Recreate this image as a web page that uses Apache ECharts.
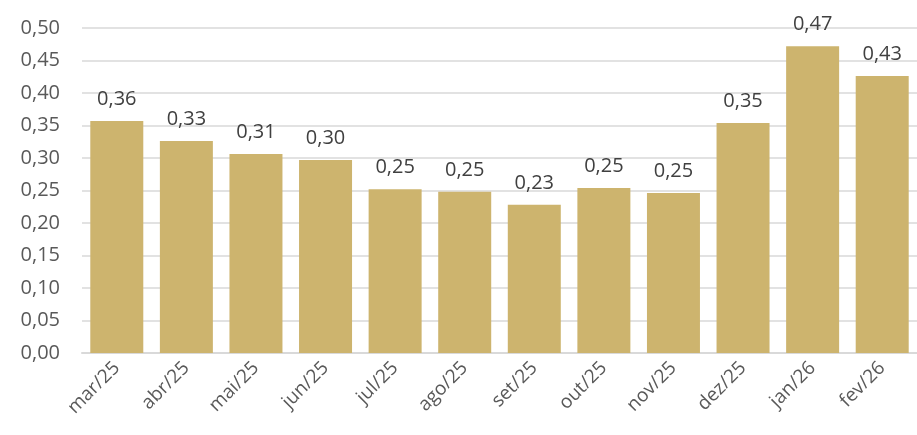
<!DOCTYPE html>
<html>
<head>
<meta charset="utf-8">
<script src="https://cdn.jsdelivr.net/npm/echarts@6/dist/echarts.min.js"></script>
<style>
  html, body { margin: 0; padding: 0; background: #fff; }
  #chart { width: 917px; height: 435px; }
</style>
</head>
<body>
<div id="chart"></div>
<script>
var months = ['mar/25', 'abr/25', 'mai/25', 'jun/25', 'jul/25', 'ago/25',
              'set/25', 'out/25', 'nov/25', 'dez/25', 'jan/26', 'fev/26'];
var values = [0.357, 0.326, 0.306, 0.297, 0.252, 0.248,
              0.228, 0.254, 0.246, 0.354, 0.472, 0.426];

var fmt = function (v) { return v.toFixed(2).replace('.', ','); };

var myChart = echarts.init(document.getElementById('chart'));

var option = {
    animation: false,
    grid: {
        left: 82,
        right: 0,
        top: 28,
        bottom: 82
    },
    xAxis: {
        type: 'category',
        data: months,
        axisTick: { show: false },
        axisLine: { lineStyle: { color: '#d9d9d9', width: 2 } },
        axisLabel: {
            rotate: 45,
            margin: 12,
            color: '#595959',
            fontFamily: 'Open Sans',
            fontSize: 19
        }
    },
    yAxis: {
        type: 'value',
        min: 0,
        max: 0.5,
        interval: 0.05,
        axisLine: { show: false },
        axisTick: { show: false },
        splitLine: { lineStyle: { color: '#d9d9d9', width: 1.5 } },
        axisLabel: {
            margin: 22,
            color: '#595959',
            fontFamily: 'Open Sans',
            fontSize: 20,
            formatter: fmt
        }
    },
    series: [
        {
            type: 'bar',
            data: values,
            barWidth: 53,
            itemStyle: { color: '#CDB46E' },
            label: {
                show: true,
                position: 'top',
                distance: 12,
                color: '#404040',
                fontFamily: 'Open Sans',
                fontSize: 20,
                formatter: function (p) { return fmt(p.value); }
            }
        }
    ]
};

myChart.setOption(option);
</script>
</body>
</html>
